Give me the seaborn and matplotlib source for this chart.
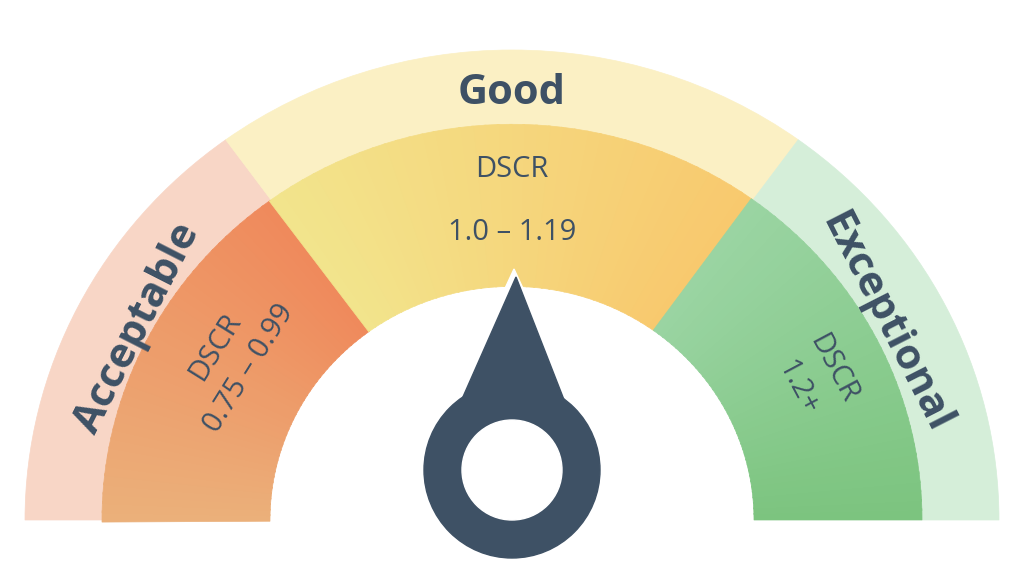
import numpy as np
import matplotlib
matplotlib.use("Agg")
import matplotlib.pyplot as plt
import seaborn as sns
from matplotlib.patches import Wedge, Circle, Polygon
from matplotlib.colors import to_rgb

sns.set_theme(style="white")
plt.rcParams['font.family'] = ['Open Sans', 'DejaVu Sans']

categories = ["Acceptable", "Good", "Exceptional"]
ranges = ["DSCR\n0.75 – 0.99", "DSCR\n\n1.0 – 1.19", "DSCR\n1.2+"]
angle_edges = [180, 126, 54, 0]
outer_colors = ["#f8d6c6", "#fbf0c4", "#d5eed9"]
inner_start = ["#ebb07a", "#f2e48c", "#9ad4a2"]
inner_end = ["#ef8a5c", "#f8c96e", "#7cc47f"]
dark = "#3e5165"

fig = plt.figure(figsize=(10.24, 5.73), dpi=100)
ax = fig.add_axes([0, 0, 1, 1])
ax.set_xlim(0, 1024); ax.set_ylim(0, 573); ax.set_aspect('auto')
ax.axis('off')
cx, cy = 512, 53
sy = 470 / 487
R_out, R_mid, R_in = 487, 410, 242

def wedge(r, t1, t2, width, color):
    w = Wedge((cx, cy / sy), r, t1, t2, width=width, facecolor=color, edgecolor=color, lw=0.5)
    w.set_transform(matplotlib.transforms.Affine2D().scale(1, sy) + ax.transData)
    ax.add_patch(w)

for i in range(3):
    a0, a1 = angle_edges[i + 1], angle_edges[i]
    wedge(R_out, a0, a1, R_out - R_mid, outer_colors[i])
    n = 40
    c0, c1 = np.array(to_rgb(inner_start[i])), np.array(to_rgb(inner_end[i]))
    for k in range(n):
        t = k / (n - 1)
        if i == 0:
            col = c0 * (1 - t) + c1 * t
            ang = a1 - (a1 - a0) * (k + 1) / n
        elif i == 1:
            col = c1 * (1 - t) + c0 * t
            ang = a0 + (a1 - a0) * k / n
        else:
            col = c1 * (1 - t) + c0 * t
            ang = a0 + (a1 - a0) * k / n
        wedge(R_mid, ang, ang + (a1 - a0) / n + 0.3, R_mid - R_in, col)

# needle
ncx, ncy = 512, 103
ax.add_patch(Circle((ncx, ncy), 95, color="white", zorder=4))
ax.add_patch(Polygon([(514, 304), (438, 140), (590, 140)], closed=True, color="white", zorder=4))
ax.add_patch(Polygon([(516, 296), (447, 140), (577, 140)], closed=True, color=dark, zorder=5))
ax.add_patch(Circle((ncx, ncy), 88, color=dark, zorder=5))
ax.add_patch(Circle((ncx, ncy), 50, color="white", zorder=6))

ax.text(512, 480, categories[1], ha='center', va='center', fontsize=30, fontweight='bold', color=dark)
ax.text(138, 245, categories[0], ha='center', va='center', fontsize=30, fontweight='bold', color=dark, rotation=63)
ax.text(885, 250, categories[2], ha='center', va='center', fontsize=30, fontweight='bold', color=dark, rotation=-63)
ax.text(512, 372, ranges[1], ha='center', va='center', fontsize=21, color=dark, linespacing=1.1)
ax.text(232, 215, ranges[0], ha='center', va='center', fontsize=21, color=dark, rotation=58, linespacing=1.5)
ax.text(815, 195, ranges[2], ha='center', va='center', fontsize=21, color=dark, rotation=-62, linespacing=1.5)

fig.savefig("out.png", dpi=100, facecolor="white")
